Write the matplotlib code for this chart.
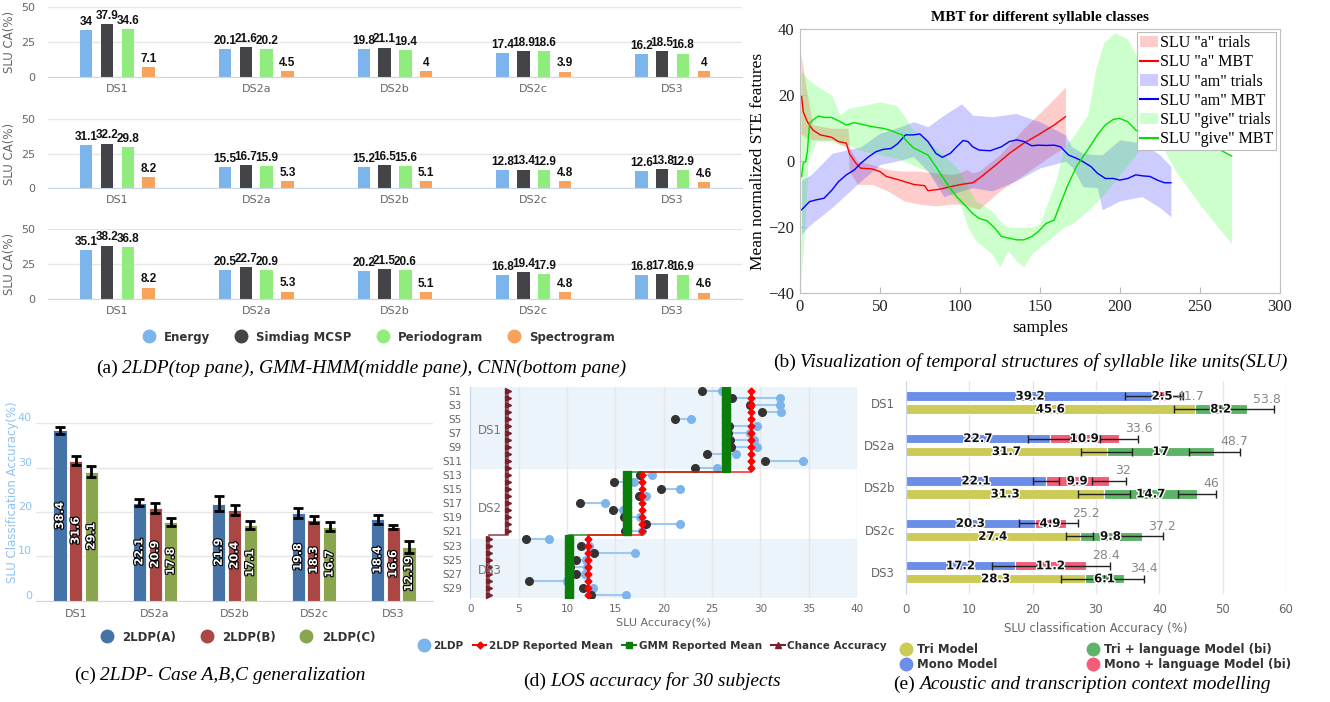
import matplotlib
matplotlib.use('Agg')
import matplotlib.pyplot as plt
import matplotlib.patheffects as pe
import numpy as np
from matplotlib.lines import Line2D
from matplotlib.patches import Patch

W, H = 1330, 702
fig = plt.figure(figsize=(W / 100, H / 100), dpi=100)

GRAY = '#666666'
GRID = '#e6e6e6'
AXLINE = '#ccd6eb'
NARROW = ['DejaVu Sans Condensed', 'Liberation Sans Narrow', 'Liberation Sans']
SERIF = ['Liberation Serif', 'DejaVu Serif']

# ---------------- data ----------------
cats = ['DS1', 'DS2a', 'DS2b', 'DS2c', 'DS3']

# (a) feature comparison, three panes
feat_names = ['Energy', 'Simdiag MCSP', 'Periodogram', 'Spectrogram']
feat_colors = ['#7cb5ec', '#434348', '#90ed7d', '#f7a35c']
ldp_energy = [34, 20.1, 19.8, 17.4, 16.2]
ldp_simdiag = [37.9, 21.6, 21.1, 18.9, 18.5]
ldp_periodogram = [34.6, 20.2, 19.4, 18.6, 16.8]
ldp_spectrogram = [7.1, 4.5, 4, 3.9, 4]
gmm_energy = [31.1, 15.5, 15.2, 12.8, 12.6]
gmm_simdiag = [32.2, 16.7, 16.5, 13.4, 13.8]
gmm_periodogram = [29.8, 15.9, 15.6, 12.9, 12.9]
gmm_spectrogram = [8.2, 5.3, 5.1, 4.8, 4.6]
cnn_energy = [35.1, 20.5, 20.2, 16.8, 16.8]
cnn_simdiag = [38.2, 22.7, 21.5, 19.4, 17.8]
cnn_periodogram = [36.8, 20.9, 20.6, 17.9, 16.9]
cnn_spectrogram = [8.2, 5.3, 5.1, 4.8, 4.6]

# (b) MBT curves and trial envelopes
a_x = [1, 2, 4.6, 8, 12.7, 19.7, 24, 29, 31, 35, 38, 45, 50, 54, 61, 71, 78, 80, 87, 94, 101, 108, 112,
       122, 131, 140, 149, 159, 166]
a_mbt = [19.6, 15, 12, 9.5, 8, 7.3, 6, 5.5, 2.2, -0.6, -2.1, -2.3, -3.1, -4.6, -5.5, -7, -7.4, -8.9, -8.5,
         -7.7, -7, -6.5, -5.2, -1.3, 2.4, 5.5, 8, 11, 13.5]
a_bx = [0.5, 2, 4, 8, 20, 30, 31, 36, 45, 55, 65, 75, 85, 95, 100, 104, 108, 112, 125, 140, 155, 166]
a_up = [33, 28, 22, 11, 10, 10, 4, 0, -1, -2.5, -3, -3, -3.5, -4, -3.5, -2.5, -3.5, -3, 2, 10, 17, 22.5]
a_lo = [8, 8, 7, 6.5, 6.5, 4, -3, -7, -7, -9, -12, -13, -13.5, -13, -13, -13.5, -14, -14.5, -9, -4, 1, 4.5]

am_x = [1, 6, 10, 15, 20, 24, 29, 34, 38, 43, 47.5, 52, 57, 61, 66, 71, 75, 80, 85, 89, 94, 98, 102, 105,
        108, 112, 119, 126, 131, 135.5, 140, 145, 149, 154, 159, 163, 168, 173, 177, 182, 186, 191, 196,
        200, 205, 210, 214, 219, 223.5, 228, 232]
am_mbt = [-14.7, -12.2, -11.7, -11.2, -8.7, -6.2, -4.1, -2.6, -0.6, 1.4, 2.9, 3.6, 3.9, 5.3, 8, 8, 8.3, 6,
          2.4, 1.2, 2.4, 4.4, 6.3, 6, 4.4, 3.4, 3.2, 4.4, 6, 6.5, 6, 4.7, 4.9, 4.8, 4.9, 4.4, 1.9, 0.9,
          -0.1, -1.6, -3.6, -5.2, -5.2, -5.7, -5.2, -4.1, -4.4, -4.6, -5.7, -6.5, -6.5]
am_bx = [1, 7, 20, 38, 50, 60, 71, 80, 90, 101, 108, 120, 135, 150, 166, 170, 177, 186, 189, 200, 214,
         225, 232]
am_up = [-5.7, -4, 2.4, 4.4, 8.5, 10, 12, 10.5, 14, 17.4, 14, 13.5, 14.5, 12, 8, 4.4, 2.4, 2, 2, 6.5,
         5.5, 2, -1.6]
am_lo = [-22, -19, -14, -6, -1, 0, 1.4, -3, -10.7, -9, -8, -9, -6, -2, 0, -1.6, -7.7, -8, -14.7, -12,
         -10.7, -14, -16.8]

give_x = [1, 2, 3.5, 4.6, 6, 8, 11.6, 15, 19.7, 24, 29, 33.6, 38, 43, 47.5, 52, 57, 61, 64, 66, 71, 75,
          80, 85, 89, 94, 98, 103, 108, 112, 117, 122, 126, 131, 135.5, 140, 145, 149, 154, 159, 163,
          168, 173, 177, 182, 186, 191, 196, 200, 205, 210, 212, 217, 237, 247, 256, 263, 270]
give_mbt = [-4.6, -0.6, -0.1, 2.9, 11.5, 12.5, 13.7, 13.3, 13.3, 12.3, 11, 11.7, 11.3, 10.7, 10.3, 10,
            9.3, 8.5, 8, 6.5, 4.1, 3.1, 1.9, -1.6, -4.6, -8.2, -10.7, -13.2, -15.8, -17.3, -18, -20.3,
            -22.8, -23.3, -23.8, -23.8, -22.8, -21.3, -18.8, -17.8, -12.7, -6.7, -1.6, 1.4, 4.9, 8, 11,
            12.7, 13, 12, 9.5, 8.7, 9.3, 7.5, 6, 4.4, 3.4, 1.6]
give_bx = [0.5, 1.5, 3, 5, 10, 20, 25, 30, 40, 50, 60, 65, 70, 80, 90, 100, 105, 110, 120, 125, 130, 135,
           140, 145, 150, 160, 165, 170, 180, 185, 190, 197, 205, 215, 225, 235, 250, 260, 270]
give_up = [27, 27, 26, 25, 23, 20, 14, 16, 17, 18, 17, 14, 10, 6, 2, -3, -8, -12, -15, -18, -20, -20,
           -20, -20, -19, -6, 4, 7, 14, 28, 36, 39, 37, 28, 22, 14, 8, 5, 1.5]
give_lo = [-38, -30, -20, 0, 6, 6, 5, 5, 3, 2, 1, 0, -1, -3, -8, -13, -20, -24, -28, -32, -27, -30, -32,
           -28, -26, -22, -20, -19, -15, -12.5, -10, -6, -1, 5, 6, -3, -13, -19, -25]

# (c) 2LDP cases
case_a = [38.4, 22.1, 21.9, 19.8, 18.4]
case_b = [31.6, 20.9, 20.4, 18.3, 16.6]
case_c = [29.1, 17.8, 17.1, 16.7, 12.19]
case_a_err = [0.75, 0.8, 1.6, 1.1, 1.0]
case_b_err = [1.0, 1.05, 1.1, 0.8, 0.5]
case_c_err = [1.2, 0.9, 0.9, 1.05, 1.35]

# (d) leave-one-subject-out
ds_names = ['DS1', 'DS2', 'DS3']
ds_sizes = [12, 9, 9]
ldp_reported = [29.0, 17.8, 12.2]
gmm_reported = [26.4, 16.2, 10.2]
chance_acc = [3.9, 3.9, 1.9]
ldp_subject = [26.0, 32.0, 32.0, 32.1, 22.8, 29.7, 28.9, 29.3, 29.7, 27.5, 34.4, 25.5,
               18.8, 16.9, 21.7, 18.2, 13.9, 15.8, 17.6, 21.7, 17.8,
               8.1, 12.3, 17.0, 12.0, 12.1, 11.9, 10.0, 12.7, 16.1]
gmm_subject = [24.0, 27.1, 28.9, 30.2, 21.2, 26.8, 26.7, 26.9, 27.0, 24.5, 30.5, 23.2,
               17.6, 14.9, 19.7, 17.4, 11.3, 14.8, 15.9, 18.2, 16.0,
               5.8, 11.5, 12.8, 10.9, 10.3, 10.9, 6.1, 11.7, 12.5]

# (e) acoustic + language model
mono = [39.2, 22.7, 22.1, 20.3, 17.2]
mono_lm = [2.5, 10.9, 9.9, 4.9, 11.2]
tri = [45.6, 31.7, 31.3, 27.4, 28.3]
tri_lm = [8.2, 17, 14.7, 9.8, 6.1]
mono_err = [4.6, 3.4, 2.1, 2.4, 3.6]
mono_lm_err = [1.5, 3.0, 2.7, 2.0, 3.8]
tri_err = [3.3, 4.0, 4.1, 2.1, 3.8]
tri_lm_err = [4.3, 4.0, 3.0, 3.4, 3.1]


def add_ax(l, t, r, b):
    return fig.add_axes([l / W, 1 - b / H, (r - l) / W, (b - t) / H])


def hc_style(ax, grid_axis):
    ax.set_facecolor('none')
    ax.set_axisbelow(True)
    ax.grid(axis=grid_axis, color=GRID, lw=1)
    for s in ax.spines.values():
        s.set_visible(False)
    ax.tick_params(length=0, colors=GRAY, labelsize=8)


def dot(color):
    return Line2D([], [], marker='o', ls='none', color=color, ms=9)


# ---------------- (a) ----------------
panes = [(7.3, 77, [ldp_energy, ldp_simdiag, ldp_periodogram, ldp_spectrogram]),
         (119, 188, [gmm_energy, gmm_simdiag, gmm_periodogram, gmm_spectrogram]),
         (229, 299, [cnn_energy, cnn_simdiag, cnn_periodogram, cnn_spectrogram])]
x = np.arange(len(cats))
for top, bottom, series in panes:
    ax = add_ax(48, top, 742, bottom)
    hc_style(ax, 'y')
    for k, (vals, col) in enumerate(zip(series, feat_colors)):
        off = (k - 1.5) * 0.15
        ax.bar(x + off, vals, width=0.09, color=col, zorder=2)
        for xi, v in zip(x, vals):
            ax.text(xi + off, v + 1.5, f'{v:g}', ha='center', va='bottom', fontsize=8.5,
                    fontweight='bold', family=NARROW, color='#111111')
    ax.set_xlim(-0.5, 4.5)
    ax.set_ylim(0, 50)
    ax.set_yticks([0, 25, 50])
    ax.set_xticks(x)
    ax.set_xticklabels(cats)
    ax.tick_params(axis='y', pad=9)
    ax.tick_params(axis='x', pad=5)
    ax.spines['bottom'].set_visible(True)
    ax.spines['bottom'].set_color(AXLINE)
    ax.set_ylabel('SLU CA(%)', color=GRAY, fontsize=8.5, labelpad=4)

fig.legend([dot(c) for c in feat_colors], feat_names, loc='center', ncol=4, frameon=False,
           bbox_to_anchor=(376 / W, 1 - 337 / H), prop={'size': 8.5, 'weight': 'bold'},
           handletextpad=0.3, columnspacing=1.6, labelcolor='#333333')

# ---------------- (b) ----------------
ax = add_ax(800, 29.3, 1279.6, 293.3)
ax.fill_between(a_bx, a_lo, a_up, color='red', alpha=0.2, lw=0)
ax.fill_between(am_bx, am_lo, am_up, color='blue', alpha=0.2, lw=0)
ax.fill_between(give_bx, give_lo, give_up, color='lime', alpha=0.2, lw=0)
ax.plot(a_x, a_mbt, color='red', lw=1)
ax.plot(am_x, am_mbt, color='blue', lw=1)
ax.plot(give_x, give_mbt, color='#00e000', lw=1)
ax.set_xlim(0, 300)
ax.set_ylim(-40, 40)
ax.set_xticks(np.arange(0, 301, 50))
ax.set_yticks(np.arange(-40, 41, 20))
ax.tick_params(direction='in', length=4, labelsize=12, colors='#bbbbbb', labelcolor='#222222', pad=4)
for lab in ax.get_xticklabels() + ax.get_yticklabels():
    lab.set_family(SERIF)
for s in ax.spines.values():
    s.set_color('#c0c0c0')
fig.text(1040 / W, 1 - 17.3 / H, 'MBT for different syllable classes', ha='center', va='center',
         fontsize=11, fontweight='bold', family=SERIF)
fig.text(1040 / W, 1 - 328 / H, 'samples', ha='center', va='center', fontsize=12.5, family=SERIF)
fig.text(758 / W, 1 - 161 / H, 'Mean normalized STE features', ha='center', va='center', rotation=90,
         fontsize=12.5, family=SERIF)
b_handles = [Patch(fc=(1, 0, 0, 0.2)), Line2D([], [], color='red'),
             Patch(fc=(0, 0, 1, 0.2)), Line2D([], [], color='blue'),
             Patch(fc=(0, 1, 0, 0.2)), Line2D([], [], color='#00e000')]
b_labels = ['SLU "a" trials', 'SLU "a" MBT', 'SLU "am" trials', 'SLU "am" MBT',
            'SLU "give" trials', 'SLU "give" MBT']
leg = ax.legend(b_handles, b_labels, loc='upper right', bbox_to_anchor=(1276 / W, 1 - 32 / H),
                bbox_transform=fig.transFigure, prop={'family': SERIF, 'size': 11.5}, fancybox=False,
                framealpha=1, edgecolor='#bbbbbb', handlelength=1.1, handletextpad=0.1,
                borderpad=0.2, labelspacing=0.2, borderaxespad=0)
leg.get_frame().set_linewidth(0.8)

# ---------------- (c) ----------------
ax = add_ax(36, 423.3, 433, 600.7)
hc_style(ax, 'y')
for k, (vals, errs, col) in enumerate([(case_a, case_a_err, '#4572A7'), (case_b, case_b_err, '#AA4643'),
                                       (case_c, case_c_err, '#89A54E')]):
    off = (k - 1) * 0.198
    ax.bar(x + off, vals, width=0.165, color=col, edgecolor='white', lw=0.6, zorder=2)
    ax.errorbar(x + off, vals, yerr=errs, fmt='none', ecolor='black', elinewidth=2, capsize=3.5,
                capthick=2, zorder=3)
    for xi, v in zip(x, vals):
        ax.text(xi + off, v / 2, f'{v:g}', rotation=90, ha='center', va='center', fontsize=8,
                fontweight='bold', color='white', zorder=4,
                path_effects=[pe.withStroke(linewidth=1.6, foreground='black')])
ax.set_xlim(-0.5, 4.5)
ax.set_ylim(0, 40)
ax.set_yticks(np.arange(0, 41, 10))
ax.set_xticks(x)
ax.set_xticklabels(cats)
ax.spines['bottom'].set_visible(True)
ax.spines['bottom'].set_color(AXLINE)
ax.tick_params(axis='y', colors='#8ec2f0', pad=3)
ax.tick_params(axis='x', pad=6)
for lab in ax.get_yticklabels():
    lab.set_va('bottom')
fig.text(13 / W, 1 - 492 / H, 'SLU Classification Accuracy(%)', rotation=90, ha='center', va='center',
         fontsize=8.5, color='#8ec2f0')
fig.legend([dot(c) for c in ['#4572A7', '#AA4643', '#89A54E']], ['2LDP(A)', '2LDP(B)', '2LDP(C)'],
           loc='center', ncol=3, frameon=False, bbox_to_anchor=(235 / W, 1 - 637 / H),
           prop={'size': 8.5, 'weight': 'bold'}, handletextpad=0.3, columnspacing=1.6,
           labelcolor='#333333')

# ---------------- (d) ----------------
ax = add_ax(470.3, 387.3, 857, 598.3)
hc_style(ax, 'x')
subj = np.arange(1, len(ldp_subject) + 1)
ds_of_subj = np.repeat(np.arange(len(ds_names)), ds_sizes)
ldp_mean_s = np.array(ldp_reported)[ds_of_subj]
gmm_mean_s = np.array(gmm_reported)[ds_of_subj]
chance_s = np.array(chance_acc)[ds_of_subj]
bounds = np.cumsum(ds_sizes)
ax.axhspan(0.5, bounds[0], color='#ecf4fb', zorder=0)
ax.axhspan(bounds[1] + 1, 30.5, color='#ecf4fb', zorder=0)
ax.hlines(subj, np.minimum(ldp_subject, gmm_subject), np.maximum(ldp_subject, gmm_subject),
          color='#9cc8f2', lw=1.5, zorder=2)
ax.plot(ldp_subject, subj, 'o', color='#7cb5ec', ms=5.5, zorder=3)
ax.plot(gmm_subject, subj, 'o', color='#333333', ms=5.5, zorder=3)


def steps_y(vals, ys):
    xs_out, ys_out = [vals[0]], [ys[0]]
    for i in range(1, len(vals)):
        mid = (ys[i - 1] + ys[i]) / 2
        xs_out += [vals[i - 1], vals[i]]
        ys_out += [mid, mid]
    xs_out.append(vals[-1])
    ys_out.append(ys[-1])
    return xs_out, ys_out


for vals, col, mk, ms in [(chance_s, '#7a1f2c', '>', 4), (gmm_mean_s, '#0b7d0b', 's', 5.5),
                          (ldp_mean_s, '#ff0000', 'D', 3.5)]:
    sx, sy = steps_y(vals, subj)
    ax.plot(sx, sy, color=col, lw=1.2, zorder=4, alpha=0.8)
    ax.plot(vals, subj, mk, color=col, ms=ms, zorder=5)
for name, ypos in zip(ds_names, [6.6, 17.8, 26.5]):
    ax.text(0.8, ypos, name, color='#777777', fontsize=8.5, va='center', ha='left', zorder=6)
ax.set_xlim(0, 40)
ax.set_ylim(30.5, 0.5)
ax.set_xticks(np.arange(0, 41, 5))
ax.set_yticks(subj[::2])
ax.set_yticklabels([f'S{i}' for i in subj[::2]])
ax.tick_params(labelsize=7.5)
ax.tick_params(axis='y', pad=6)
ax.tick_params(axis='x', pad=4)
ax.spines['left'].set_visible(True)
ax.spines['left'].set_color(AXLINE)
ax.set_xlabel('SLU Accuracy(%)', color=GRAY, fontsize=8, labelpad=3)
d_handles = [dot('#7cb5ec'),
             Line2D([], [], color='#ff0000', marker='D', ms=3.5),
             Line2D([], [], color='#0b7d0b', marker='s', ms=4.5),
             Line2D([], [], color='#7a1f2c', marker='^', ms=4.5)]
fig.legend(d_handles, ['2LDP', '2LDP Reported Mean', 'GMM Reported Mean', 'Chance Accuracy'],
           loc='center', ncol=4, frameon=False, bbox_to_anchor=(652 / W, 1 - 645.7 / H),
           prop={'size': 7.5, 'weight': 'bold'}, handletextpad=0.25, columnspacing=0.9,
           handlelength=1.3, labelcolor='#333333')

# ---------------- (e) ----------------
MONO_C, MONOLM_C, TRI_C, TRILM_C = '#6b8fe8', '#f45c77', '#cccb55', '#5db467'
ax = add_ax(906, 381.4, 1286, 593.5)
hc_style(ax, 'x')
yc = np.arange(len(cats))
ym, yt = yc - 0.153, yc + 0.153
mono_tot = np.round(np.add(mono, mono_lm), 1)
tri_tot = np.round(np.add(tri, tri_lm), 1)
bh = 0.22
for yy, base, extra, tot, c1, c2, e1, e2 in [(ym, mono, mono_lm, mono_tot, MONO_C, MONOLM_C, mono_err, mono_lm_err),
                                             (yt, tri, tri_lm, tri_tot, TRI_C, TRILM_C, tri_err, tri_lm_err)]:
    ax.barh(yy, base, height=bh, color=c1, edgecolor='white', lw=0.8, zorder=2)
    ax.barh(yy, extra, left=base, height=bh, color=c2, edgecolor='white', lw=0.8, zorder=2)
    ax.errorbar(base, yy, xerr=e1, fmt='none', ecolor='#222222', elinewidth=1, capsize=3, zorder=3)
    ax.errorbar(tot, yy, xerr=e2, fmt='none', ecolor='#222222', elinewidth=1, capsize=3, zorder=3)
    for yi, b, e, t in zip(yy, base, extra, tot):
        for cx, v in [(b / 2, b), (b + e / 2, e)]:
            ax.text(cx, yi, f'{v:g}', ha='center', va='center', fontsize=8.5, fontweight='bold',
                    color='#111111', zorder=4,
                    path_effects=[pe.withStroke(linewidth=2, foreground='white')])
        ax.text(t + 1, max(yi - 0.235, -0.14), f'{t:g}', ha='left', va='center', fontsize=9,
                color='#888888', zorder=4)
ax.set_xlim(0, 60)
ax.set_ylim(4.5, -0.5)
ax.set_xticks(np.arange(0, 61, 10))
ax.set_yticks(yc)
ax.set_yticklabels(cats)
ax.tick_params(labelsize=8.5)
ax.tick_params(axis='x', pad=7)
ax.tick_params(axis='y', pad=8)
ax.spines['left'].set_visible(True)
ax.spines['left'].set_color(AXLINE)
ax.set_xlabel('SLU classification Accuracy (%)', color=GRAY, fontsize=8.5, labelpad=4)
for handles, labels, lx in [([dot(TRI_C), dot(MONO_C)], ['Tri Model', 'Mono Model'], 900),
                            ([dot(TRILM_C), dot(MONOLM_C)],
                             ['Tri + language Model (bi)', 'Mono + language Model (bi)'], 1087)]:
    fig.legend(handles, labels, loc='upper left', frameon=False, bbox_to_anchor=(lx / W, 1 - 643 / H),
               prop={'size': 8.5, 'weight': 'bold'}, handletextpad=0.4, handlelength=1.0,
               labelspacing=0.15, borderpad=0, borderaxespad=0, labelcolor='#333333')

# ---------------- captions ----------------
captions = [(361, 368, '(a)', '2LDP(top pane), GMM-HMM(middle pane), CNN(bottom pane)'),
            (1030, 362, '(b)', 'Visualization of temporal structures of syllable like units(SLU)'),
            (220, 675, '(c)', '2LDP- Case A,B,C generalization'),
            (652, 681, '(d)', 'LOS accuracy for 30 subjects'),
            (1082, 684, '(e)', 'Acoustic and transcription context modelling')]
renderer = fig.canvas.get_renderer()
for cx, cy, head, body in captions:
    t1 = fig.text(0, 0, head, fontsize=14, family=SERIF, va='baseline')
    t2 = fig.text(0, 0, body, fontsize=14, family=SERIF, style='italic', va='baseline')
    w1 = t1.get_window_extent(renderer).width
    w2 = t2.get_window_extent(renderer).width
    gap = 4
    x0 = cx - (w1 + gap + w2) / 2
    t1.set_position((x0 / W, 1 - (cy + 5) / H))
    t2.set_position(((x0 + w1 + gap) / W, 1 - (cy + 5) / H))

fig.savefig('out.png', dpi=100)
